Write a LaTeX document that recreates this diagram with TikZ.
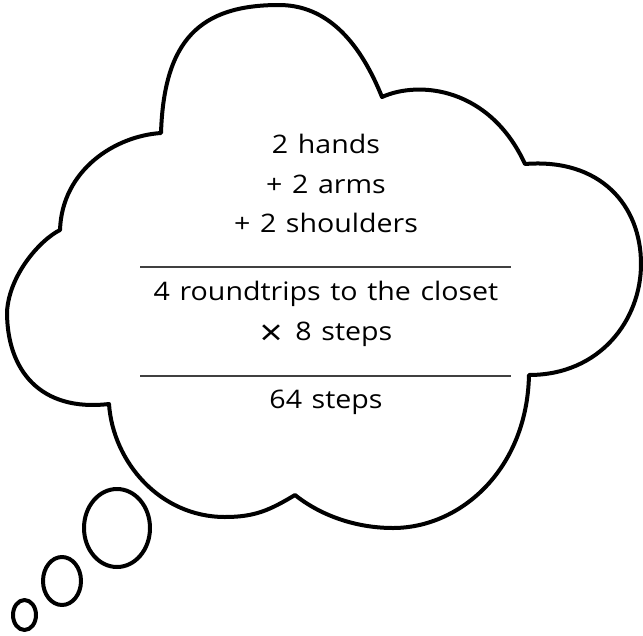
\documentclass[tikz,border=0pt]{standalone}
\usepackage{fontspec}
\setmainfont[WordSpace=1.3,FakeStretch=1.12]{Open Sans}
\begin{document}
\begin{tikzpicture}[x=1pt,y=-1pt,
  cloudline/.style={line width=4pt,line join=round,black},
  ruleline/.style={line width=1.3pt,black!75},
  txt/.style={anchor=base,font=\fontsize{25.5}{30}\selectfont,inner sep=0pt}]
\useasboundingbox (0,0) rectangle (643,635);
% cloud cusps
\coordinate (A) at (161,133);
\coordinate (B) at (382,97);
\coordinate (C) at (525,164);
\coordinate (D) at (529,375);
\coordinate (E) at (295,495);
\coordinate (F) at (109,404);
\coordinate (G) at (60,230);
\draw[cloudline]
  (A) .. controls (164,40) and (200,5) .. (279,5)
      .. controls (335,5) and (365,55) .. (B)
      .. controls (420,80) and (490,88) .. (C)
      .. controls (600,158) and (641,205) .. (641,264)
      .. controls (641,320) and (600,375) .. (D)
      .. controls (527,470) and (460,528) .. (393,528)
      .. controls (355,528) and (320,515) .. (E)
      .. controls (270,510) and (255,517) .. (225,517)
      .. controls (160,517) and (113,462) .. (F)
      .. controls (40,412) and (7,370) .. (7,312)
      .. controls (9,275) and (40,240) .. (G)
      .. controls (62,170) and (115,136) .. cycle;
% thought bubbles
\draw[cloudline] (117,528) ellipse [x radius=33, y radius=39];
\draw[cloudline] (62,581) ellipse [x radius=19, y radius=24];
\draw[cloudline] (24.5,615) ellipse [x radius=11.5, y radius=15];
% text
\node[txt] (t1) at (326,153) {2 hands};
\node[txt] (t2) at (326,193) {+ 2 arms};
\node[txt] (t3) at (326,232) {+ 2 shoulders};
\coordinate (l1a) at (140,267);
\coordinate (l1b) at (511,267);
\draw[ruleline] (l1a) -- (l1b);
\node[txt] (t4) at (326,300) {4 roundtrips to the closet};
\node[txt] (t5) at (326,340) {\raisebox{-5pt}{\fontsize{36}{30}\selectfont ×}\hspace{3pt} 8 steps};
\coordinate (l2a) at (140,376);
\coordinate (l2b) at (511,376);
\draw[ruleline] (l2a) -- (l2b);
\node[txt] (t6) at (326,408) {64 steps};
\end{tikzpicture}
\end{document}
